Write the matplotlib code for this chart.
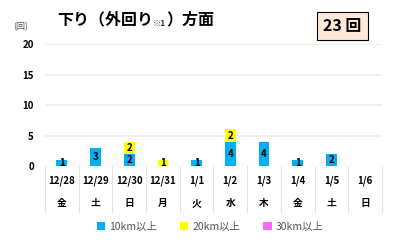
import numpy as np
import matplotlib.pyplot as plt
import matplotlib.transforms as mtransforms

plt.rcParams['font.family'] = ['Noto Sans CJK JP', 'DejaVu Sans']

dates = ['12/28', '12/29', '12/30', '12/31', '1/1', '1/2', '1/3', '1/4', '1/5', '1/6']
weekdays = ['金', '土', '日', '月', '火', '水', '木', '金', '土', '日']
km10 = [1, 3, 2, 0, 1, 4, 4, 1, 2, 0]
km20 = [0, 0, 2, 1, 0, 2, 0, 0, 0, 0]
km30 = [0, 0, 0, 0, 0, 0, 0, 0, 0, 0]
total = 23

c10, c20, c30 = '#00B0F0', '#FFFF00', '#FF66FF'

fig = plt.figure(figsize=(3.93, 2.42), dpi=100)
ax = fig.add_axes([0.1145, 0.314, 0.8575, 0.504])

x = np.arange(len(dates))
w = 0.32
b10 = np.array(km10)
b20 = np.array(km20)
b30 = np.array(km30)
ax.bar(x, b10, w, color=c10, label='10km以上', zorder=3)
ax.bar(x, b20, w, bottom=b10, color=c20, label='20km以上', zorder=3)
ax.bar(x, b30, w, bottom=b10 + b20, color=c30, label='30km以上', zorder=3)

# segment labels
for i in range(len(x)):
    base = 0
    for vals in (b10, b20, b30):
        v = vals[i]
        if v > 0:
            ax.text(x[i], base + v / 2, str(v), ha='center', va='center',
                    fontsize=7, fontweight='bold', color='black', zorder=4)
        base += v

ax.set_xlim(-0.5, len(x) - 0.5)
ax.set_ylim(0, 20)
ax.set_yticks([0, 5, 10, 15, 20])
ax.set_yticklabels(['0', '5', '10', '15', '20'], fontsize=7, fontweight='bold')
ax.tick_params(axis='y', length=0, pad=8)
ax.set_xticks([])
for s in ax.spines.values():
    s.set_visible(False)
for yv in [5, 10, 15, 20]:
    ax.axhline(yv, color='#ececec', lw=1.2, zorder=1)
ax.axhline(0, color='#d9d9d9', lw=0.8, zorder=2)

# table below the axis
tr = mtransforms.blended_transform_factory(ax.transData, ax.transAxes)
for b in np.arange(-0.5, len(x), 1.0):
    ax.plot([b, b], [0, -0.38], transform=tr, color='#e3e3e3', lw=0.8,
            clip_on=False, zorder=1)
for i in range(len(x)):
    ax.text(x[i], -0.12, dates[i], transform=tr, ha='center', va='center',
            fontsize=7, fontweight='bold')
    ax.text(x[i], -0.30, weekdays[i], transform=tr, ha='center', va='center',
            fontsize=7, fontweight='bold')

fig.text(0.033, 0.888, '(回)', fontsize=6.5, color='#555555', ha='left', va='center')

# title
t = fig.text(0.145, 0.92, '下り（外回り', fontsize=11.5, fontweight='bold', va='center')
fig.canvas.draw()
bb = t.get_window_extent().transformed(fig.transFigure.inverted())
t2 = fig.text(bb.x1, 0.905, '※1', fontsize=6, fontweight='bold', color='#333333', va='center')
fig.canvas.draw()
bb2 = t2.get_window_extent().transformed(fig.transFigure.inverted())
fig.text(bb2.x1, 0.92, '）方面', fontsize=11.5, fontweight='bold', va='center')

fig.text(0.8715, 0.893, f'{total} 回', fontsize=11.5, fontweight='bold', ha='center', va='center',
         bbox=dict(boxstyle='square,pad=0.4', fc='#FDE9D9', ec='black', lw=0.8))

ax.legend(loc='center', bbox_to_anchor=(0.49, -0.5), ncol=3, frameon=False,
          fontsize=7.5, handlelength=0.8, handleheight=0.8, columnspacing=2.2,
          handletextpad=0.4, labelcolor='#555555')

fig.savefig('out.png', dpi=100)
